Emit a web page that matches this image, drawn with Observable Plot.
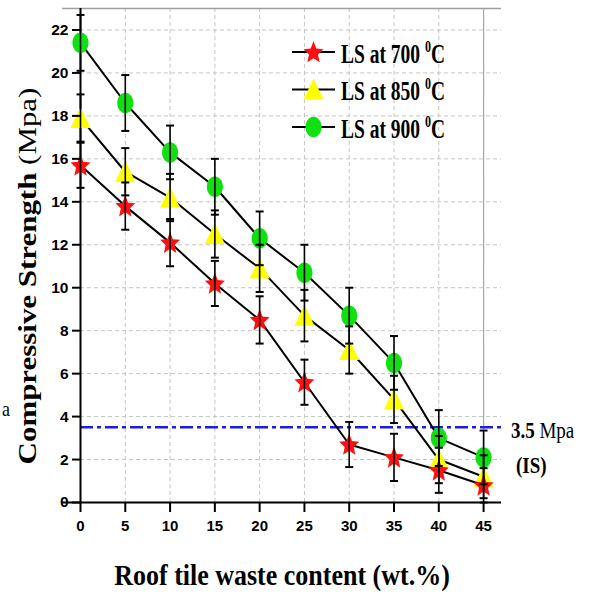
<!DOCTYPE html>
<html>
<head>
<meta charset="utf-8">
<script src="https://cdn.jsdelivr.net/npm/d3@7"></script>
<script src="https://cdn.jsdelivr.net/npm/@observablehq/plot@0.6"></script>
<style>
  html, body { margin: 0; padding: 0; background: #fff; overflow: hidden; }
  #chart svg { display: block; }
</style>
</head>
<body>
<div id="chart"></div>
<script>
// Roof tile waste content (wt.%)
const content = [0, 5, 10, 15, 20, 25, 30, 35, 40, 45];

// Compressive strength (MPa) and error (± MPa) per firing temperature
const ls700 = [15.7, 13.8, 12.1, 10.2, 8.5, 5.6, 2.7, 2.1, 1.5, 0.8];
const ls700Err = [1.05, 1.1, 1.1, 1.05, 1.1, 1.05, 1.05, 1.1, 1.05, 0.8];
const ls850 = [17.9, 15.4, 14.2, 12.5, 10.9, 8.7, 7.1, 4.8, 2.0, 1.2];
const ls850Err = [1.1, 1.1, 1.1, 1.1, 1.1, 1.2, 1.1, 1.1, 1.1, 1.0];
const ls900 = [21.4, 18.6, 16.3, 14.7, 12.3, 10.7, 8.7, 6.5, 3.0, 2.1];
const ls900Err = [1.3, 1.3, 1.25, 1.3, 1.25, 1.3, 1.3, 1.25, 1.3, 1.25];

const temperatures = ["700", "850", "900"];
const yTicks = [0, 2, 4, 6, 8, 10, 12, 14, 16, 18, 20, 22];
const xTicks = [0, 5, 10, 15, 20, 25, 30, 35, 40, 45];
const isLimit = 3.5; // IS minimum compressive strength

// Marker shapes (slightly taller than wide)
const starSym = {
  draw(ctx, size) {
    const R = Math.sqrt(size / Math.PI), ri = R * 0.45;
    for (let i = 0; i < 10; i++) {
      const a = -Math.PI / 2 + i * Math.PI / 5, rad = i % 2 ? ri : R;
      const x = rad * Math.cos(a), y = rad * Math.sin(a) * 1.12 + R * 0.08;
      i ? ctx.lineTo(x, y) : ctx.moveTo(x, y);
    }
    ctx.closePath();
  }
};
const triSym = {
  draw(ctx, size) {
    const R = Math.sqrt(size / Math.PI);
    ctx.moveTo(0, -R * 1.1);
    ctx.lineTo(R, R * 1.0);
    ctx.lineTo(-R, R * 1.0);
    ctx.closePath();
  }
};
const ellSym = {
  draw(ctx, size) {
    const R = Math.sqrt(size / Math.PI), rx = R * 0.85, ry = R * 1.08, k = 0.5523;
    ctx.moveTo(rx, 0);
    ctx.bezierCurveTo(rx, ry * k, rx * k, ry, 0, ry);
    ctx.bezierCurveTo(-rx * k, ry, -rx, ry * k, -rx, 0);
    ctx.bezierCurveTo(-rx, -ry * k, -rx * k, -ry, 0, -ry);
    ctx.bezierCurveTo(rx * k, -ry, rx, -ry * k, rx, 0);
    ctx.closePath();
  }
};
const capSym = {
  draw(ctx, size) {
    const w = Math.sqrt(size / Math.PI);
    ctx.moveTo(-w, 0);
    ctx.lineTo(w, 0);
  }
};

const series = [
  {temp: "700", values: ls700, errs: ls700Err, symbol: starSym, fill: "#ff1010", r: 10.5},
  {temp: "850", values: ls850, errs: ls850Err, symbol: triSym, fill: "#ffff00", r: 10},
  {temp: "900", values: ls900, errs: ls900Err, symbol: ellSym, fill: "#10e010", r: 9.5}
];

const rows = s => content.map((c, i) => ({content: c, strength: s.values[i], err: s.errs[i]}));

// Back to front: 900 °C first, 700 °C on top; error bars over the markers
const ordered = series.slice().reverse();
const lineMarks = ordered.flatMap(s => {
  const data = rows(s);
  return [
    Plot.line(data, {x: "content", y: "strength", stroke: "black", strokeWidth: 2}),
    Plot.dot(data, {x: "content", y: "strength", symbol: s.symbol, r: s.r, fill: s.fill, stroke: "none"})
  ];
});
const errorMarks = ordered.flatMap(s => {
  const data = rows(s);
  return [
    Plot.ruleX(data, {x: "content", y1: d => d.strength - d.err, y2: d => d.strength + d.err, stroke: "black", strokeWidth: 1.6}),
    Plot.dot(data, {x: "content", y: d => d.strength + d.err, symbol: capSym, r: 4, fill: "none", stroke: "black", strokeWidth: 2}),
    Plot.dot(data, {x: "content", y: d => d.strength - d.err, symbol: capSym, r: 4, fill: "none", stroke: "black", strokeWidth: 2})
  ];
});

const chart = Plot.plot({
  width: 589,
  height: 598,
  marginLeft: 80,
  marginRight: 88,
  marginTop: 8,
  marginBottom: 96,
  style: {background: "white", fontFamily: "'Liberation Sans', Arial, sans-serif", overflow: "visible"},
  x: {domain: [0, 47], label: null},
  y: {domain: [0, 23], label: null},
  marks: [
    Plot.gridX(xTicks, {stroke: "#c4c4c4", strokeOpacity: 1, strokeDasharray: "4,3"}),
    Plot.gridY(yTicks, {stroke: "#c4c4c4", strokeOpacity: 1, strokeDasharray: "4,3"}),
    Plot.ruleX([45], {stroke: "#a8a8a8", strokeWidth: 1.2}),
    Plot.ruleY([23], {x1: -2, x2: 47, stroke: "#a0a0a0", strokeWidth: 1.5}),
    Plot.ruleY([isLimit], {stroke: "#1c1ce8", strokeWidth: 2.5, strokeDasharray: "13,4,4,4"}),
    Plot.ruleX([0], {stroke: "black", strokeWidth: 2}),
    ...lineMarks,
    ...errorMarks,
    Plot.ruleY([0], {x1: -2, x2: 47, stroke: "black", strokeWidth: 2}),
    Plot.axisY({ticks: yTicks, tickSize: 8, tickPadding: 4, fontSize: 15.5, fontWeight: "bold", stroke: "black", strokeWidth: 2, label: null, color: "black"}),
    Plot.axisX({ticks: xTicks, tickSize: 10, tickPadding: 8, fontSize: 15, fontWeight: "bold", stroke: "black", strokeWidth: 2, label: null, color: "black"})
  ]
});

document.getElementById("chart").appendChild(chart);

const svg = d3.select(chart);
const serif = "'Liberation Serif', 'Times New Roman', serif";

// Axis titles
const yTitle = svg.append("text")
  .attr("transform", "translate(36,276) scale(1,1.19) rotate(-90)")
  .attr("text-anchor", "middle")
  .attr("font-family", serif)
  .attr("font-size", 26)
  .attr("fill", "black");
yTitle.append("tspan").attr("font-weight", "bold").text("Compressive Strength ");
yTitle.append("tspan").attr("font-weight", "normal").text("(Mpa)");

svg.append("text")
  .attr("transform", "translate(282,585) scale(1,1.17)")
  .attr("text-anchor", "middle")
  .attr("font-family", serif)
  .attr("font-size", 26)
  .attr("font-weight", "bold")
  .attr("fill", "black")
  .text("Roof tile waste content (wt.%)");

// IS limit annotation
const isLabel = svg.append("text")
  .attr("transform", "translate(511,438) scale(1,1.2)")
  .attr("text-anchor", "start")
  .attr("font-family", serif)
  .attr("font-size", 19)
  .attr("fill", "black");
isLabel.append("tspan").attr("font-weight", "bold").text(isLimit.toFixed(1));
isLabel.append("tspan").attr("font-weight", "normal").text(" Mpa");

svg.append("text")
  .attr("transform", "translate(516,473) scale(1,1.2)")
  .attr("text-anchor", "start")
  .attr("font-family", serif)
  .attr("font-size", 19)
  .attr("font-weight", "bold")
  .attr("fill", "black")
  .text("(IS)");

svg.append("text")
  .attr("transform", "translate(2,416) scale(1,1.15)")
  .attr("text-anchor", "start")
  .attr("font-family", serif)
  .attr("font-size", 18)
  .attr("fill", "black")
  .text("a");

// Legend
const legend = svg.append("g").attr("transform", "translate(292,52)");
series.forEach((s, i) => {
  const g = legend.append("g").attr("transform", `translate(0,${i * 37.5})`);
  g.append("line").attr("x1", 0).attr("x2", 43).attr("y1", 0).attr("y2", 0)
    .attr("stroke", "black").attr("stroke-width", 2);
  const p = d3.path();
  s.symbol.draw(p, s.r * s.r * Math.PI);
  g.append("path").attr("transform", "translate(21.5,0)").attr("d", p.toString()).attr("fill", s.fill);
  const t = g.append("text")
    .attr("transform", "translate(49,10.5) scale(1,1.35)")
    .attr("text-anchor", "start")
    .attr("font-family", serif)
    .attr("font-size", 19.5)
    .attr("font-weight", "bold")
    .attr("fill", "black");
  t.append("tspan").text(`LS at ${temperatures[i]} `);
  t.append("tspan").attr("font-size", 12).attr("dy", -8).text("0");
  t.append("tspan").attr("dy", 8).text("C");
});
</script>
</body>
</html>
